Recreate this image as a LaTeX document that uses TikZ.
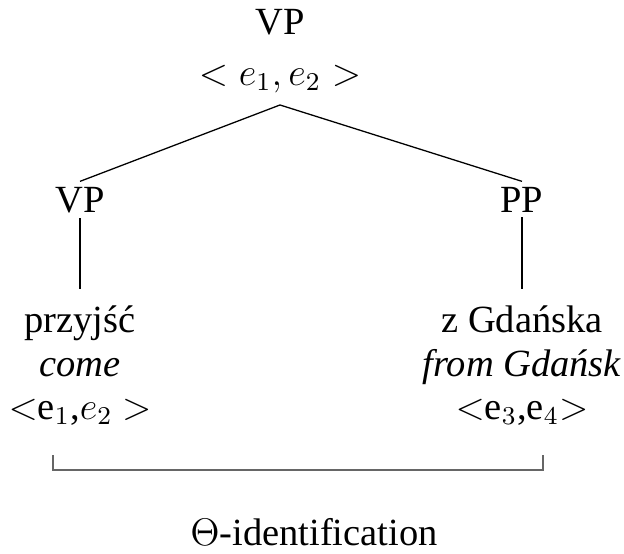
\documentclass[tikz,border=0pt,12pt]{standalone}
\usepackage[no-math]{fontspec}
\setmainfont{Liberation Serif}
\begin{document}
\begin{tikzpicture}[x=0.312pt,y=-0.312pt,
    lbl/.style={anchor=base,inner sep=0pt}]
    \useasboundingbox (0,0) rectangle (624,554);
    % tree labels
    \node[lbl] (vptop) at (280,35) {VP};
    \node[lbl] (evtop) at (280,85) {$< e_1, e_2 >$};
    \node[lbl] (vpl) at (80,212) {VP};
    \node[lbl] (ppr) at (522,212) {PP};
    \node[lbl] (przyjsc) at (80,332) {przyjść};
    \node[lbl] (come) at (80,376) {\textit{come}};
    \node[lbl] (evl) at (80,419) {$<$e$_1$,$e_2$ $>$};
    \node[lbl] (zgd) at (522,332) {z Gdańska};
    \node[lbl] (fromgd) at (522,376) {\textit{from Gdańsk}};
    \node[lbl] (evr) at (522,419) {$<$e$_3$,e$_4$$>$};
    \node[lbl] (theta) at (314,545) {$\Theta$-identification};
    % branches
    \draw ([yshift=-3.7pt]evtop.south) -- ([yshift=1.5pt]vpl.north);
    \draw ([yshift=-3.7pt]evtop.south) -- ([yshift=1.5pt]ppr.north);
    \draw ([yshift=-1.5pt]vpl.south) -- ([yshift=5pt]przyjsc.north);
    \draw ([yshift=-1.5pt]ppr.south) -- ([yshift=5pt]zgd.north);
    % identification bracket
    \coordinate (brl) at (53,455);
    \coordinate (brr) at (543,455);
    \draw[gray!80!black] (brl) -- ++(0,15) -| (brr);
\end{tikzpicture}
\end{document}
